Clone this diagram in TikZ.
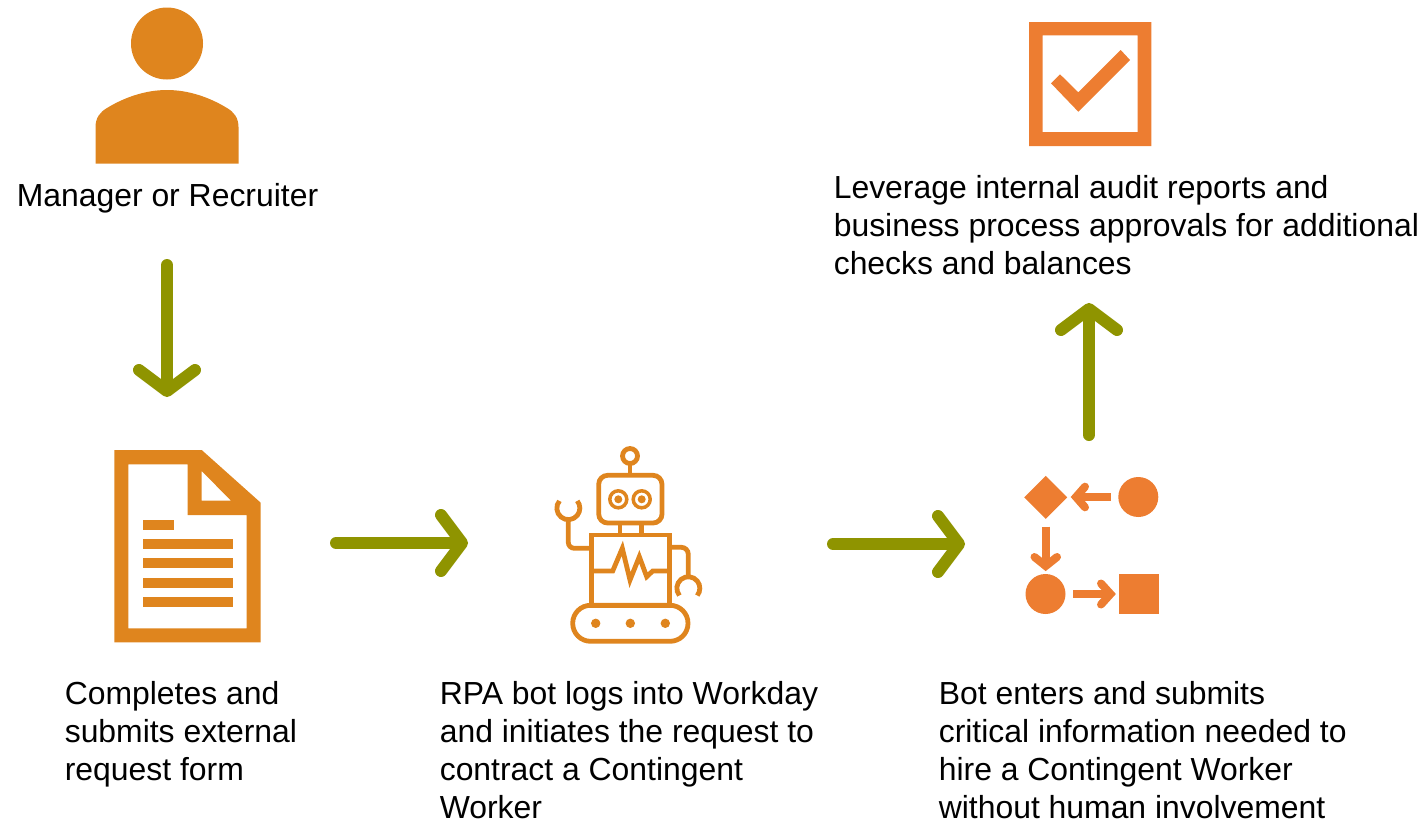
\documentclass[tikz,border=0pt]{standalone}
\usepackage{fontspec}
\setmainfont{Liberation Sans}
\usetikzlibrary{arrows.meta}
\definecolor{iconA}{HTML}{DF851E}
\definecolor{iconB}{HTML}{ED7D31}
\definecolor{arrowG}{HTML}{8F9400}
\tikzset{
  label text/.style={anchor=north west,inner sep=0pt,align=left,font=\fontsize{31.9}{38}\selectfont},
  flow/.style={draw=arrowG,line width=12pt,line cap=round,-{Straight Barb[round,length=21pt,width=56pt]}},
  small arm/.style={draw=iconB,line width=8pt,line cap=round,line join=miter},
  small shaft/.style={draw=iconB,line width=8pt},
  robot/.style={draw=iconA,line width=4.8pt},
}
\begin{document}
\begin{tikzpicture}[x=1pt,y=-1pt]
\useasboundingbox (0,0) rectangle (1424,822);
% person
\fill[iconA] (167,43.5) circle[radius=36pt];
\fill[iconA] (95.5,163.5) -- (95.5,127) .. controls (95.5,118) and (100,112) .. (107,108)
  .. controls (125,97) and (146,90) .. (167,90)
  .. controls (188,90) and (209,97) .. (227,108)
  .. controls (234,112) and (238.5,118) .. (238.5,127) -- (238.5,163.5) -- cycle;
% document
\fill[iconA,even odd rule] (114.3,450) -- (201.7,450) -- (260.7,502.7) -- (260.7,642.3) -- (114.3,642.3) -- cycle
  (128.3,464.3) -- (187.7,464.3) -- (187.7,515) -- (246.7,515) -- (246.7,628.3) -- (128.3,628.3) -- cycle
  (201.7,471) -- (201.7,500.7) -- (231,500.7) -- cycle;
\fill[iconA] (143,520) rectangle (174,530);
\fill[iconA] (143,539) rectangle (233,549);
\fill[iconA] (143,558) rectangle (233,568);
\fill[iconA] (143,578) rectangle (233,588);
\fill[iconA] (143,597) rectangle (233,607);
% robot
\draw[robot] (630,456) circle[radius=7.5pt];
\draw[robot] (630,464) -- (630,475.3);
\draw[robot,rounded corners=9pt] (598.7,475.3) rectangle (662,523);
\draw[iconA,line width=3.5pt] (618.3,499.3) circle[radius=8.5pt];
\draw[iconA,line width=3.5pt] (641.7,499.3) circle[radius=8.5pt];
\fill[iconA] (618.3,499.3) circle[radius=4pt];
\fill[iconA] (641.7,499.3) circle[radius=4pt];
\draw[robot] (620,523) -- (620,535);
\draw[robot] (641.7,523) -- (641.7,535);
\draw[robot] (591.7,535) rectangle (669.3,605.3);
\draw[robot] (591.7,571) -- (612.7,571) -- (622.3,548.3) -- (630,580) -- (639.3,556.7) -- (646.7,576.7) -- (652.7,571) -- (669.3,571);
\draw[robot,rounded corners=6pt] (591.7,548.3) -- (568.3,548.3) -- (568.3,519);
\draw[robot] (559.4,500.9) arc[start angle=141,end angle=399,radius=11.5pt];
\draw[robot,rounded corners=7pt] (669.3,547.3) -- (688.3,547.3) -- (688.3,577.3);
\draw[robot] (679.4,595.5) arc[start angle=219,end angle=-39,radius=11.5pt];
\draw[robot,rounded corners=17.9pt] (572.7,605.3) rectangle (688,641.3);
\fill[iconA] (595.7,623.3) circle[radius=4.7pt];
\fill[iconA] (630.3,623.3) circle[radius=4.7pt];
\fill[iconA] (665.3,623.3) circle[radius=4.7pt];
% process icon
\fill[iconB] (1045.7,475.8) -- (1067.2,497.3) -- (1045.7,518.8) -- (1024.2,497.3) -- cycle;
\fill[iconB] (1138.3,497) circle[radius=20pt];
\fill[iconB] (1045.5,594) circle[radius=20pt];
\fill[iconB] (1119,574) rectangle (1159,614);
\draw[small shaft] (1110.7,497) -- (1077,497);
\draw[small arm] (1085,486.7) -- (1076,497) -- (1085,507.3);
\draw[small shaft] (1045.7,526.7) -- (1045.7,565);
\draw[small arm] (1034.5,557) -- (1045.7,566) -- (1057,557);
\draw[small shaft] (1073.3,594) -- (1109,594);
\draw[small arm] (1101,583.5) -- (1110.5,594) -- (1101,604.5);
% check box
\fill[iconB,even odd rule] (1029,22) rectangle (1151.3,146) (1042.7,35.3) rectangle (1137.7,132);
\fill[iconB] (1060,74.3) -- (1051,83.3) -- (1078.3,111.7) -- (1130,60) -- (1120.7,50) -- (1078.3,92.3) -- cycle;
% arrow ends
\coordinate (a1s) at (167,265);
\coordinate (a1e) at (167,397);
\coordinate (a2s) at (336,543);
\coordinate (a2e) at (468,543);
\coordinate (a3s) at (833,544);
\coordinate (a3e) at (965,544);
\coordinate (a4s) at (1089,435);
\coordinate (a4e) at (1089,303);
\draw[flow] (a1s) -- (a1e);
\draw[flow] (a2s) -- (a2e);
\draw[flow] (a3s) -- (a3e);
\draw[flow] (a4s) -- (a4e);
% texts
\node[label text] (t1) at (16.6,183) {Manager or Recruiter};
\node[label text] (t2) at (64.6,681) {Completes and\\submits external\\request form};
\node[label text] (t3) at (439.6,681) {RPA bot logs into Workday\\and initiates the request to\\contract a Contingent\\Worker};
\node[label text] (t4) at (938.6,681) {Bot enters and submits\\critical information needed to\\hire a Contingent Worker\\without human involvement};
\node[label text] (t5) at (833.6,175) {Leverage internal audit reports and\\business process approvals for additional\\checks and balances};
\end{tikzpicture}
\end{document}
